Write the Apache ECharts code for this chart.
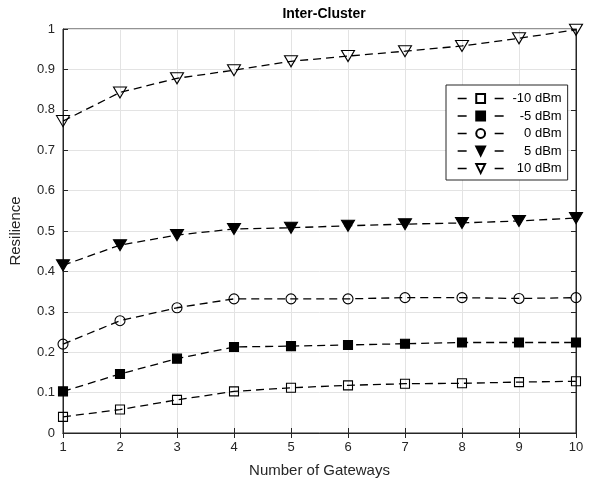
<!DOCTYPE html>
<html><head><meta charset="utf-8">
<script src="https://cdn.jsdelivr.net/npm/echarts@6/dist/echarts.min.js"></script>
<style>html,body{margin:0;padding:0;background:#fff}#c{width:593px;height:486px}</style>
</head><body><div id="c"></div>
<script>
const gateways = [1,2,3,4,5,6,7,8,9,10];
const seriesNames = ['-10 dBm','-5 dBm','0 dBm','5 dBm','10 dBm'];
const valsM10 = [0.040,0.058,0.082,0.103,0.112,0.118,0.122,0.123,0.126,0.128];
const valsM5  = [0.103,0.146,0.184,0.213,0.215,0.218,0.221,0.224,0.224,0.224];
const vals0   = [0.220,0.278,0.310,0.332,0.332,0.332,0.335,0.335,0.333,0.335];
const vals5   = [0.415,0.465,0.490,0.505,0.508,0.513,0.517,0.520,0.525,0.532];
const vals10  = [0.772,0.843,0.878,0.898,0.920,0.933,0.945,0.958,0.977,0.998];
const yTicks  = [0,0.1,0.2,0.3,0.4,0.5,0.6,0.7,0.8,0.9,1];

const FONT = 'Liberation Sans, Arial, sans-serif';
const allVals = [valsM10, valsM5, vals0, vals5, vals10];
const markers = [
  {symbol:'rect', size:9, fill:'transparent', rot:0},
  {symbol:'rect', size:9, fill:'#000', rot:0},
  {symbol:'circle', size:10, fill:'transparent', rot:0},
  {symbol:'triangle', size:[13,11], fill:'#000', rot:180},
  {symbol:'triangle', size:[13,11], fill:'transparent', rot:180}
];

const chart = echarts.init(document.getElementById('c'), null, {renderer:'canvas'});
const axisLineStyle = {color:'#262626', width:1};
const series = allVals.map((v,i)=>({
  name: seriesNames[i],
  type:'line',
  data: gateways.map((g,j)=>[g, v[j]]),
  symbol: markers[i].symbol,
  symbolSize: markers[i].size,
  symbolRotate: markers[i].rot,
  showAllSymbol: true,
  lineStyle:{color:'#000', width:1.3, type:[8,5]},
  itemStyle:{color: markers[i].fill, borderColor:'#000', borderWidth:1.1},
  emphasis:{disabled:true},
  animation:false,
  z: 3
}));

chart.setOption({
  animation:false,
  backgroundColor:'#fff',
  title:{text:'Inter-Cluster', left:319, top:2, textAlign:'center',
    textStyle:{fontFamily:FONT, fontSize:14, fontWeight:'bold', color:'#000'}},
  grid:{left:63, right:17, top:29, bottom:53, show:true, borderColor:'#262626', borderWidth:1, backgroundColor:'#fff'},
  legend:{
    left:446, top:85, orient:'vertical', itemGap:4.5,
    padding:[7,6,5,11],
    backgroundColor:'#fff', borderColor:'#262626', borderWidth:1,
    itemWidth:46, itemHeight:11,
    lineStyle:{type:[9,28], width:1.3, color:'#000'},
    formatter:(n)=>'{a|'+n+'}',
    textStyle:{fontFamily:FONT, fontSize:13, color:'#000',
      rich:{a:{fontFamily:FONT, fontSize:13, color:'#000', width:53, align:'right'}}},
    data: seriesNames
  },
  xAxis:[{
    type:'value', min:1, max:10, interval:1, position:'bottom',
    name:'Number of Gateways', nameLocation:'middle', nameGap:30,
    nameTextStyle:{fontFamily:FONT, fontSize:15, color:'#262626'},
    axisLine:{show:true, lineStyle:axisLineStyle},
    axisTick:{show:true, inside:true, length:5, lineStyle:axisLineStyle},
    axisLabel:{fontFamily:FONT, fontSize:13, color:'#262626', margin:8},
    splitLine:{show:true, lineStyle:{color:'#e3e3e3', width:1}}
  },{
    type:'value', min:1, max:10, interval:1, position:'top',
    axisLine:{show:true, lineStyle:axisLineStyle},
    axisTick:{show:true, inside:true, length:5, lineStyle:axisLineStyle},
    axisLabel:{show:false}, splitLine:{show:false}
  }],
  yAxis:[{
    type:'value', min:0, max:1, interval:0.1, position:'left',
    name:'Resilience', nameLocation:'middle', nameGap:40,
    nameTextStyle:{fontFamily:FONT, fontSize:15, color:'#262626'},
    axisLine:{show:true, lineStyle:axisLineStyle},
    axisTick:{show:true, inside:true, length:5, lineStyle:axisLineStyle},
    axisLabel:{fontFamily:FONT, fontSize:13, color:'#262626', margin:8,
      formatter:(v)=>{ const t = yTicks.find(x=>Math.abs(x-v)<1e-6); return t===undefined? '' : String(t); }},
    splitLine:{show:true, lineStyle:{color:'#e3e3e3', width:1}}
  },{
    type:'value', min:0, max:1, interval:0.1, position:'right',
    axisLine:{show:true, lineStyle:axisLineStyle},
    axisTick:{show:true, inside:true, length:5, lineStyle:axisLineStyle},
    axisLabel:{show:false}, splitLine:{show:false}
  }],
  series: series
});
</script></body></html>
